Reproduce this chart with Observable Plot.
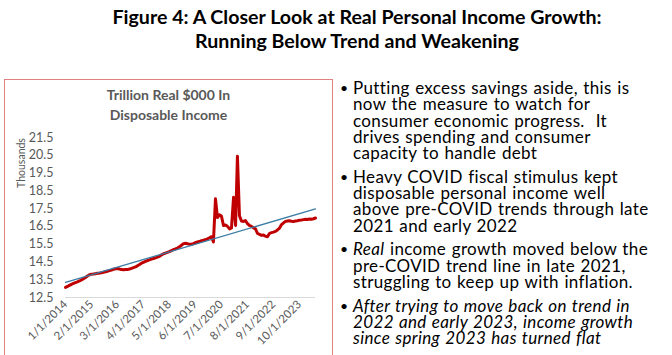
<!DOCTYPE html>
<html>
<head>
<meta charset="utf-8">
<script src="https://cdn.jsdelivr.net/npm/d3@7"></script>
<script src="https://cdn.jsdelivr.net/npm/@observablehq/plot@0.6"></script>
<style>
  html, body { margin: 0; padding: 0; background: #fff; }
  #page { position: relative; width: 672px; height: 355px; overflow: hidden; font-family: Lato, "Noto Sans", sans-serif; }
  #title { position: absolute; left: 0; width: 714px; top: 5px; text-align: center; font-weight: bold; font-size: 19.6px; line-height: 24px; color: #000; white-space: nowrap; }
  #panel { position: absolute; left: 4px; top: 79px; width: 329px; height: 290px; border: 1.5px solid #e08080; border-bottom: none; box-sizing: border-box; }
  #ctitle { position: absolute; left: 4px; width: 329px; top: 85px; text-align: center; font-weight: bold; font-size: 14px; line-height: 20px; color: #595959; white-space: nowrap; }
  #ylabel { position: absolute; left: 21px; top: 163px; transform: translate(-50%, -50%) rotate(-90deg); font-size: 10.5px; color: #595959; white-space: nowrap; }
  #chart { position: absolute; left: 0; top: 120px; }
  #bullets { position: absolute; left: 353px; top: 80px; font-size: 17px; letter-spacing: 0.35px; word-spacing: 0.8px; color: #000; white-space: nowrap; }
  .para { position: relative; margin-bottom: 7.4px; }
  .para span { display: block; height: 16.3px; line-height: 16.3px; }
  .para::before { content: "•"; position: absolute; left: -13px; top: 0; font-size: 14px; line-height: 16.3px; }
</style>
</head>
<body>
<div id="page">
  <div id="title">Figure 4: A Closer Look at Real Personal Income Growth:<br>Running Below Trend and Weakening</div>
  <div id="panel"></div>
  <div id="ctitle">Trillion Real $000 In<br>Disposable Income</div>
  <div id="ylabel">Thousands</div>
  <div id="chart"></div>
  <div id="bullets">
    <div class="para"><span>Putting excess savings aside, this is</span><span>now the measure to watch for</span><span>consumer economic progress.&nbsp; It</span><span>drives spending and consumer</span><span>capacity to handle debt</span></div>
    <div class="para"><span>Heavy COVID fiscal stimulus kept</span><span>disposable personal income well</span><span>above pre-COVID trends through late</span><span>2021 and early 2022</span></div>
    <div class="para"><span><i>Real</i> income growth moved below the</span><span>pre-COVID trend line in late 2021,</span><span>struggling to keep up with inflation.</span></div>
    <div class="para"><span><i>After trying to move back on trend in</i></span><span><i>2022 and early 2023, income growth</i></span><span><i>since spring 2023 has turned flat</i></span></div>
  </div>
</div>
<script>
// Monthly real disposable income (thousands of billions), Jan 2014 .. Jun 2024
const firstMonth = "2014-01-01";
const income = [
  13.07, 13.12, 13.18, 13.24, 13.29, 13.34, 13.38, 13.43, 13.49, 13.56, 13.63, 13.71,
  13.78, 13.81, 13.82, 13.84, 13.86, 13.87, 13.89, 13.92, 13.95, 13.98, 14.01, 14.04,
  14.09, 14.12, 14.13, 14.10, 14.07, 14.06, 14.08, 14.07, 14.10, 14.14, 14.18, 14.22,
  14.29, 14.36, 14.43, 14.48, 14.53, 14.58, 14.62, 14.66, 14.69, 14.73, 14.77, 14.81,
  14.90, 14.96, 15.00, 15.04, 15.08, 15.14, 15.19, 15.23, 15.28, 15.35, 15.44, 15.53,
  15.55, 15.52, 15.50, 15.49, 15.53, 15.58, 15.62, 15.65, 15.70, 15.72, 15.76, 15.80,
  15.86, 15.92, 15.62, 18.05, 17.00, 17.15, 17.08, 16.55, 16.58, 16.50, 16.36, 16.42,
  18.14, 16.55, 20.45, 17.10, 16.80, 16.78, 16.83, 16.65, 16.55, 16.50, 16.42, 16.36,
  16.10, 16.05, 16.00, 16.02, 15.95, 15.92, 16.10, 16.15, 16.18, 16.22, 16.30, 16.40,
  16.60, 16.70, 16.78, 16.80, 16.82, 16.79, 16.78, 16.80, 16.82, 16.85, 16.86, 16.88,
  16.90, 16.89, 16.92, 16.90, 16.93, 16.97
];
// Pre-COVID linear trend line (end points)
const trendDates = ["2014-01-01", "2024-06-01"];
const trendValues = [13.35, 17.48];
// Axis ticks
const xTickLabels = ["1/1/2014", "2/1/2015", "3/1/2016", "4/1/2017", "5/1/2018", "6/1/2019", "7/1/2020", "8/1/2021", "9/1/2022", "10/1/2023"];
const yTicks = [12.5, 13.5, 14.5, 15.5, 16.5, 17.5, 18.5, 19.5, 20.5, 21.5];

const start = new Date(firstMonth + "T00:00:00Z");
const series = income.map((v, i) => ({date: d3.utcMonth.offset(start, i), value: v}));
const trend = trendDates.map((d, i) => ({date: new Date(d + "T00:00:00Z"), value: trendValues[i]}));
const parseTick = s => { const [m, d, y] = s.split("/").map(Number); return new Date(Date.UTC(y, m - 1, d)); };
const xTicks = xTickLabels.map(parseTick);
const fmt = d => `${d.getUTCMonth() + 1}/${d.getUTCDate()}/${d.getUTCFullYear()}`;

const chart = Plot.plot({
  width: 335,
  height: 235,
  marginLeft: 65,
  marginRight: 20,
  marginTop: 17,
  marginBottom: 58,
  style: {fontFamily: "Lato, 'Noto Sans', sans-serif", color: "#595959", background: "transparent", overflow: "visible"},
  x: {type: "utc", domain: [series[0].date, series[series.length - 1].date]},
  y: {domain: [12.5, 21.5]},
  marks: [
    Plot.axisY({ticks: yTicks, tickFormat: d3.format(".1f"), tickSize: 0, tickPadding: 12, fontSize: 12.5, label: null}),
    Plot.axisX({ticks: xTicks, tickFormat: fmt, tickRotate: -45, tickSize: 0, tickPadding: 5, fontSize: 11.5, label: null}),
    Plot.ruleY([yTicks[0]], {stroke: "#d9d9d9", strokeWidth: 1}),
    Plot.line(series, {x: "date", y: "value", stroke: "#c00000", strokeWidth: 3, strokeLinejoin: "round"}),
    Plot.line(trend, {x: "date", y: "value", stroke: "#3a7ca5", strokeWidth: 1.3})
  ]
});
document.getElementById("chart").appendChild(chart);
</script>
</body>
</html>
